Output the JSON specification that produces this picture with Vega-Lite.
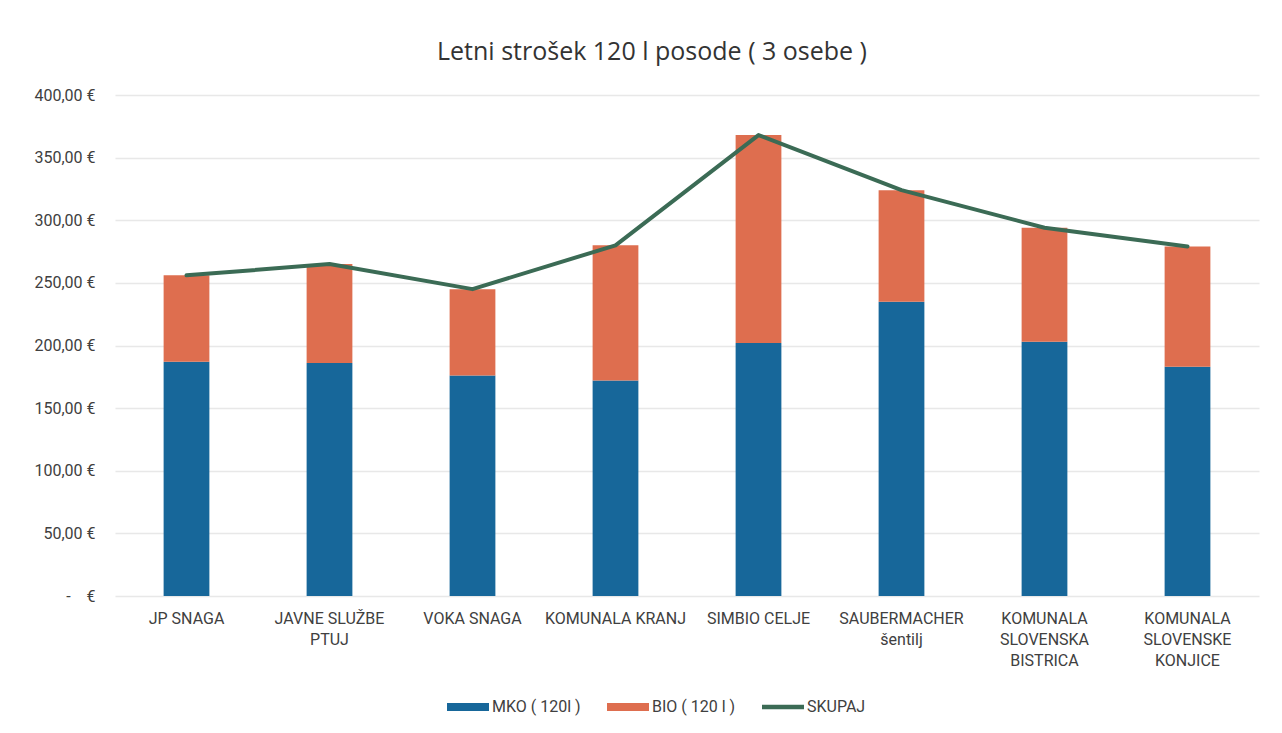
{
  "$schema": "https://vega.github.io/schema/vega-lite/v6.json",
  "autosize": {"type": "none"},
  "width": 1144,
  "height": 501,
  "padding": {"left": 115, "top": 95, "right": 23, "bottom": 137},
  "background": "white",
  "config": {
    "font": "Open Sans",
    "view": {"stroke": null},
    "axis": {"labelFont": "Roboto", "labelColor": "#404040", "labelFontSize": 16}
  },
  "title": {
    "text": "Letni strošek 120 l posode ( 3 osebe )",
    "font": "Open Sans",
    "fontSize": 25,
    "fontWeight": "normal",
    "color": "#333333",
    "anchor": "middle",
    "dx": -35,
    "offset": 22
  },
  "data": {
    "values": [
      {"firma": "JP SNAGA", "serija": "MKO ( 120l )", "red": 1, "vrednost": 187},
      {"firma": "JP SNAGA", "serija": "BIO ( 120 l )", "red": 2, "vrednost": 69},
      {"firma": "JP SNAGA", "serija": "SKUPAJ", "red": 3, "vrednost": 256},
      {"firma": "JAVNE SLUŽBE PTUJ", "serija": "MKO ( 120l )", "red": 1, "vrednost": 186},
      {"firma": "JAVNE SLUŽBE PTUJ", "serija": "BIO ( 120 l )", "red": 2, "vrednost": 79},
      {"firma": "JAVNE SLUŽBE PTUJ", "serija": "SKUPAJ", "red": 3, "vrednost": 265},
      {"firma": "VOKA SNAGA", "serija": "MKO ( 120l )", "red": 1, "vrednost": 176},
      {"firma": "VOKA SNAGA", "serija": "BIO ( 120 l )", "red": 2, "vrednost": 69},
      {"firma": "VOKA SNAGA", "serija": "SKUPAJ", "red": 3, "vrednost": 245},
      {"firma": "KOMUNALA KRANJ", "serija": "MKO ( 120l )", "red": 1, "vrednost": 172},
      {"firma": "KOMUNALA KRANJ", "serija": "BIO ( 120 l )", "red": 2, "vrednost": 108},
      {"firma": "KOMUNALA KRANJ", "serija": "SKUPAJ", "red": 3, "vrednost": 280},
      {"firma": "SIMBIO CELJE", "serija": "MKO ( 120l )", "red": 1, "vrednost": 202},
      {"firma": "SIMBIO CELJE", "serija": "BIO ( 120 l )", "red": 2, "vrednost": 166},
      {"firma": "SIMBIO CELJE", "serija": "SKUPAJ", "red": 3, "vrednost": 368},
      {"firma": "SAUBERMACHER šentilj", "serija": "MKO ( 120l )", "red": 1, "vrednost": 235},
      {"firma": "SAUBERMACHER šentilj", "serija": "BIO ( 120 l )", "red": 2, "vrednost": 89},
      {"firma": "SAUBERMACHER šentilj", "serija": "SKUPAJ", "red": 3, "vrednost": 324},
      {"firma": "KOMUNALA SLOVENSKA BISTRICA", "serija": "MKO ( 120l )", "red": 1, "vrednost": 203},
      {"firma": "KOMUNALA SLOVENSKA BISTRICA", "serija": "BIO ( 120 l )", "red": 2, "vrednost": 91},
      {"firma": "KOMUNALA SLOVENSKA BISTRICA", "serija": "SKUPAJ", "red": 3, "vrednost": 294},
      {"firma": "KOMUNALA SLOVENSKE KONJICE", "serija": "MKO ( 120l )", "red": 1, "vrednost": 183},
      {"firma": "KOMUNALA SLOVENSKE KONJICE", "serija": "BIO ( 120 l )", "red": 2, "vrednost": 96},
      {"firma": "KOMUNALA SLOVENSKE KONJICE", "serija": "SKUPAJ", "red": 3, "vrednost": 279}
    ]
  },
  "encoding": {
    "x": {
      "field": "firma",
      "type": "nominal",
      "sort": null,
      "title": null,
      "scale": {"paddingInner": 0.68, "paddingOuter": 0.34},
      "axis": {
        "labelAngle": 0,
        "ticks": false,
        "domain": false,
        "labelPadding": 14,
        "labelLineHeight": 21,
        "labelLimit": 200,
        "labelExpr": "datum.value == 'JAVNE SLUŽBE PTUJ' ? ['JAVNE SLUŽBE', 'PTUJ'] : datum.value == 'SAUBERMACHER šentilj' ? ['SAUBERMACHER', 'šentilj'] : datum.value == 'KOMUNALA SLOVENSKA BISTRICA' ? ['KOMUNALA', 'SLOVENSKA', 'BISTRICA'] : datum.value == 'KOMUNALA SLOVENSKE KONJICE' ? ['KOMUNALA', 'SLOVENSKE', 'KONJICE'] : datum.value"
      }
    }
  },
  "layer": [
    {
      "transform": [{"filter": "datum.serija != 'SKUPAJ'"}],
      "mark": {"type": "bar"},
      "encoding": {
        "y": {
          "field": "vrednost",
          "type": "quantitative",
          "stack": "zero",
          "title": null,
          "scale": {"domain": [0, 400]},
          "axis": {
            "values": [0, 50, 100, 150, 200, 250, 300, 350, 400],
            "ticks": false,
            "domain": false,
            "gridColor": "#e8e8e8",
            "gridWidth": 1.5,
            "labelPadding": 20,
            "labelExpr": "datum.value == 0 ? '-\u00a0\u00a0\u00a0\u00a0€' : replace(format(datum.value, '.2f'), '.', ',') + ' €'"
          }
        },
        "color": {
          "field": "serija",
          "type": "nominal",
          "scale": {
            "domain": ["MKO ( 120l )", "BIO ( 120 l )", "SKUPAJ"],
            "range": ["#17679a", "#de6e4f", "#3b6b55"]
          },
          "legend": {
            "title": null,
            "orient": "none",
            "legendX": 332,
            "legendY": 591,
            "direction": "horizontal",
            "labelFont": "Roboto",
            "labelFontSize": 16,
            "labelColor": "#404040",
            "columnPadding": 26,
            "labelOffset": 3,
            "symbolSize": 1764,
            "symbolStrokeWidth": 0,
            "encode": {
              "symbols": {
                "update": {
                  "shape": {"signal": "datum.label == 'SKUPAJ' ? 'M-1,-0.11L1,-0.11L1,0.11L-1,0.11Z' : 'M-1,-0.19L1,-0.19L1,0.19L-1,0.19Z'"},
                  "fill": {"signal": "datum.label == 'SKUPAJ' ? '#3b6b55' : (datum.label == 'MKO ( 120l )' ? '#17679a' : '#de6e4f')"},
                  "strokeWidth": {"value": 0}
                }
              }
            }
          }
        },
        "order": {"field": "red", "type": "quantitative"}
      }
    },
    {
      "transform": [{"filter": "datum.serija == 'SKUPAJ'"}],
      "mark": {"type": "line", "strokeWidth": 4, "strokeJoin": "round", "strokeCap": "round"},
      "encoding": {
        "y": {"field": "vrednost", "type": "quantitative"},
        "color": {"field": "serija", "type": "nominal"}
      }
    }
  ]
}
